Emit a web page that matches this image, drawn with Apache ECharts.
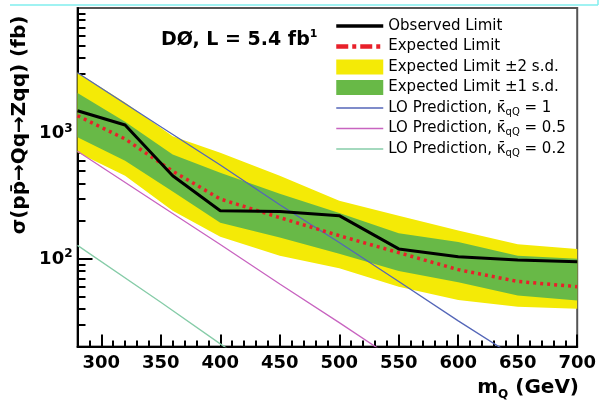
<!DOCTYPE html>
<html>
<head>
<meta charset="utf-8">
<script src="https://cdn.jsdelivr.net/npm/echarts@6/dist/echarts.min.js"></script>
<style>
html, body { margin: 0; padding: 0; background: #fff; }
#chart { width: 599px; height: 404px; }
</style>
</head>
<body>
<div id="chart"></div>
<script>
// limits vs heavy quark mass (GeV), cross sections in fb
const masses = [280, 320, 360, 400, 450, 500, 550, 600, 650, 700];
const observed = [1517, 1166, 460, 242, 238, 221, 120, 104, 98, 95];
const expected = [1384, 903, 500, 300, 213, 153, 112, 82, 66, 60];
const plus2 = [3060, 1766, 950, 700, 460, 291, 221, 168, 131, 120];
const plus1 = [2100, 1240, 680, 486, 330, 232, 160, 136, 106, 100];
const minus1 = [930, 605, 345, 194, 148, 110, 80, 65, 51, 46.5];
const minus2 = [706, 460, 242, 150, 106, 84, 60, 47, 41.5, 40];

// LO predictions
const loMasses = [280, 350, 400, 450, 500, 550, 600, 650, 700];
const lo10 = [3050, 1130, 560, 270, 135, 66, 32, 16, 8];
const lo05 = [720, 265, 130, 63, 31, 15, 7.5, 3.7, 1.8];
const lo02 = [128, 45, 21, 10, 4.8, 2.3, 1.1, 0.55, 0.27];

const xLabels = [300, 350, 400, 450, 500, 550, 600, 650, 700];
const yLabels = [100, 1000];
const yMinor = [30, 40, 50, 60, 70, 80, 90, 200, 300, 400, 500, 600, 700, 800, 900,
    2000, 3000, 4000, 5000, 6000, 7000, 8000, 9000];
let xMinor = [];
for (let m = 290; m < 700; m += 10) {
    if (m % 50 !== 0) xMinor.push(m);
}

const KAPPA = '\u03ba\u0304';
const FONT = 'DejaVu Sans';

function pairs(xs, ys) {
    return xs.map(function (x, i) { return [x, ys[i]]; });
}

function band(name, upper, lower, color) {
    return {
        type: 'custom',
        name: name,
        silent: true,
        clip: true,
        z: 1,
        itemStyle: { color: color },
        data: [[masses[0], upper[0]]],
        renderItem: function (params, api) {
            let pts = [];
            for (let i = 0; i < masses.length; i++) {
                pts.push(api.coord([masses[i], upper[i]]));
            }
            for (let i = masses.length - 1; i >= 0; i--) {
                pts.push(api.coord([masses[i], lower[i]]));
            }
            return {
                type: 'polygon',
                shape: { points: pts },
                style: { fill: color, stroke: null }
            };
        }
    };
}

function loLine(name, ys, color) {
    return {
        type: 'line',
        name: name,
        data: pairs(loMasses, ys),
        symbol: 'none',
        z: 3,
        lineStyle: { color: color, width: 1.3 },
        itemStyle: { color: color }
    };
}

// legend entry for a line: keep the stroke, hide the marker
function lineEntry(name, lineStyle) {
    return { name: name, lineStyle: lineStyle, itemStyle: { opacity: 0 } };
}

const chart = echarts.init(document.getElementById('chart'));

chart.setOption({
    animation: false,
    backgroundColor: '#fff',
    grid: {
        left: 77.5,
        right: 20,
        top: 8,
        bottom: 57.5,
        show: true,
        borderColor: '#555',
        borderWidth: 2,
        backgroundColor: '#fff'
    },
    legend: {
        orient: 'vertical',
        left: 334,
        top: 17,
        padding: 0,
        itemWidth: 47,
        itemHeight: 15,
        itemGap: 2.5,
        selectedMode: false,
        textStyle: {
            fontFamily: FONT,
            fontSize: 15,
            color: '#000',
            lineHeight: 18,
            rich: {
                sub: { fontFamily: FONT, fontSize: 10, lineHeight: 18, verticalAlign: 'bottom', color: '#000' }
            }
        },
        formatter: function (name) {
            return name.replace(KAPPA + 'qQ', KAPPA + '{sub|qQ}');
        },
        data: [
            lineEntry('Observed Limit', { width: 3.5 }),
            lineEntry('Expected Limit', { width: 4.5, type: [12, 4, 4, 4] }),
            { name: 'Expected Limit \u00b12 s.d.', icon: 'rect' },
            { name: 'Expected Limit \u00b11 s.d.', icon: 'rect' },
            lineEntry('LO Prediction, ' + KAPPA + 'qQ = 1', { width: 1.5 }),
            lineEntry('LO Prediction, ' + KAPPA + 'qQ = 0.5', { width: 1.5 }),
            lineEntry('LO Prediction, ' + KAPPA + 'qQ = 0.2', { width: 1.5 })
        ]
    },
    xAxis: [{
        type: 'value',
        min: 280,
        max: 700,
        position: 'bottom',
        axisLine: { lineStyle: { color: '#000', width: 2 } },
        axisTick: { inside: true, length: 12, customValues: xLabels, lineStyle: { color: '#000', width: 2 } },
        axisLabel: {
            customValues: xLabels,
            color: '#000',
            fontFamily: FONT,
            fontWeight: 'bold',
            fontSize: 18,
            margin: 8
        },
        splitLine: { show: false }
    }, {
        type: 'value',
        min: 280,
        max: 700,
        position: 'bottom',
        axisLine: { show: false },
        axisTick: { inside: true, length: 6, customValues: xMinor, lineStyle: { color: '#000', width: 2 } },
        axisLabel: { show: false },
        splitLine: { show: false }
    }],
    yAxis: [{
        type: 'log',
        logBase: 10,
        min: 20,
        max: 10000,
        position: 'left',
        axisLine: { lineStyle: { color: '#000', width: 2 } },
        axisTick: { inside: true, length: 15, customValues: yLabels, lineStyle: { color: '#000', width: 2 } },
        axisLabel: {
            customValues: yLabels,
            margin: 5,
            formatter: function (v) {
                return '{b|10}{s|' + Math.round(Math.log10(v)) + '}';
            },
            rich: {
                b: { fontFamily: FONT, fontWeight: 'bold', fontSize: 18, color: '#000', lineHeight: 22 },
                s: { fontFamily: FONT, fontWeight: 'bold', fontSize: 12, color: '#000', lineHeight: 14, verticalAlign: 'top' }
            }
        },
        splitLine: { show: false }
    }, {
        type: 'log',
        logBase: 10,
        min: 20,
        max: 10000,
        position: 'left',
        axisLine: { show: false },
        axisTick: { inside: true, length: 8, customValues: yMinor, lineStyle: { color: '#000', width: 2 } },
        axisLabel: { show: false },
        splitLine: { show: false }
    }],
    series: [
        band('Expected Limit \u00b12 s.d.', plus2, minus2, '#f4ea06'),
        band('Expected Limit \u00b11 s.d.', plus1, minus1, '#68b947'),
        loLine('LO Prediction, ' + KAPPA + 'qQ = 1', lo10, '#5466b8'),
        loLine('LO Prediction, ' + KAPPA + 'qQ = 0.5', lo05, '#c864c0'),
        loLine('LO Prediction, ' + KAPPA + 'qQ = 0.2', lo02, '#86cca8'),
        {
            type: 'line',
            name: 'Expected Limit',
            data: pairs(masses, expected),
            symbol: 'none',
            z: 4,
            lineStyle: { color: '#e8202a', width: 3.5, type: [3, 4] },
            itemStyle: { color: '#e8202a' }
        },
        {
            type: 'line',
            name: 'Observed Limit',
            data: pairs(masses, observed),
            symbol: 'none',
            z: 5,
            lineStyle: { color: '#000', width: 3 },
            itemStyle: { color: '#000' }
        }
    ],
    graphic: [
        {
            type: 'line',
            shape: { x1: 10, y1: 5, x2: 598, y2: 5 },
            style: { stroke: '#80eeee', lineWidth: 1.5 }
        },
        {
            type: 'line',
            shape: { x1: 598, y1: 0, x2: 598, y2: 5 },
            style: { stroke: '#80eeee', lineWidth: 1.5 }
        },
        {
            type: 'text',
            left: 161,
            top: 29,
            style: {
                text: '{t|D\u00d8, L = 5.4 fb}{s|1}',
                rich: {
                    t: { fontFamily: FONT, fontWeight: 'bold', fontSize: 19, fill: '#000', lineHeight: 22 },
                    s: { fontFamily: FONT, fontWeight: 'bold', fontSize: 11, fill: '#000', lineHeight: 12, verticalAlign: 'top' }
                }
            }
        },
        {
            type: 'text',
            x: 20,
            y: 125,
            rotation: Math.PI / 2,
            style: {
                text: '\u03c3(pp\u0304\u2192Qq\u2192Zqq) (fb)',
                fontFamily: FONT,
                fontWeight: 'bold',
                fontSize: 20,
                fill: '#000',
                textAlign: 'center',
                textVerticalAlign: 'middle'
            }
        },
        {
            type: 'text',
            x: 579,
            y: 388,
            style: {
                text: '{b|m}{s|Q}{b| (GeV)}',
                textAlign: 'right',
                textVerticalAlign: 'middle',
                rich: {
                    b: { fontFamily: FONT, fontWeight: 'bold', fontSize: 20, fill: '#000', lineHeight: 26 },
                    s: { fontFamily: FONT, fontWeight: 'bold', fontSize: 12, fill: '#000', lineHeight: 14, verticalAlign: 'bottom' }
                }
            }
        }
    ]
});
</script>
</body>
</html>
